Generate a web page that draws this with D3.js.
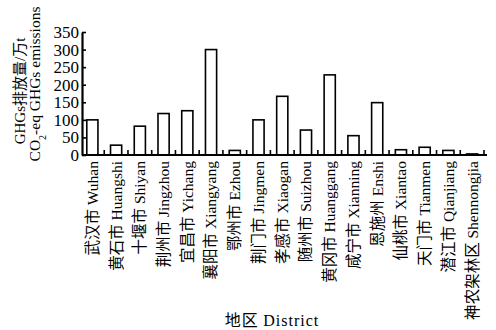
<!DOCTYPE html>
<html>
<head>
<meta charset="utf-8">
<script src="https://cdn.jsdelivr.net/npm/d3@7"></script>
<style>
  body { margin: 0; background: #fff; }
  svg text { font-family: "Liberation Serif", "Noto Sans CJK SC", serif; fill: #000; }
</style>
</head>
<body>
<svg id="chart" width="496" height="330"></svg>
<script>
// Districts (Chinese + English) and emissions
const districts = [
  "武汉市 Wuhan", "黄石市 Huangshi", "十堰市 Shiyan", "荆州市 Jingzhou",
  "宜昌市 Yichang", "襄阳市 Xiangyang", "鄂州市 Ezhou", "荆门市 Jingmen",
  "孝感市 Xiaogan", "随州市 Suizhou", "黄冈市 Huanggang", "咸宁市 Xianning",
  "恩施州 Enshi", "仙桃市 Xiantao", "天门市 Tianmen", "潜江市 Qianjiang",
  "神农架林区 Shennongjia"
];
const emissions = [100, 28, 82, 118, 126, 300, 13, 100, 167, 71, 228, 55, 149, 15, 22, 13, 3];
const yTicks = [0, 50, 100, 150, 200, 250, 300, 350];

const svg = d3.select("#chart");

const x = d3.scaleBand()
  .domain(districts)
  .range([80.5, 484])
  .paddingInner(0.53)
  .paddingOuter(0.265);

const y = d3.scaleLinear()
  .domain([0, 350])
  .range([155, 32]);

// bars
svg.selectAll(".bar")
  .data(districts)
  .enter()
  .append("rect")
  .attr("class", "bar")
  .attr("x", d => x(d))
  .attr("width", x.bandwidth())
  .attr("y", (d, i) => y(emissions[i]))
  .attr("height", (d, i) => y(0) - y(emissions[i]))
  .attr("fill", "#fff")
  .attr("stroke", "#000")
  .attr("stroke-width", 1.6);

// x axis line and inward ticks at category boundaries
svg.append("line")
  .attr("x1", 82).attr("x2", 487)
  .attr("y1", y(0)).attr("y2", y(0))
  .attr("stroke", "#000").attr("stroke-width", 2.2);

const step = x.step();
svg.selectAll(".xtick")
  .data(districts.slice(1).concat(["end"]))
  .enter()
  .append("line")
  .attr("class", "xtick")
  .attr("x1", (d, i) => x.range()[0] + (i + 1) * step)
  .attr("x2", (d, i) => x.range()[0] + (i + 1) * step)
  .attr("y1", y(0)).attr("y2", y(0) - 5)
  .attr("stroke", "#000").attr("stroke-width", 1.6);

// x labels, rotated
svg.selectAll(".xlabel")
  .data(districts)
  .enter()
  .append("text")
  .attr("class", "xlabel")
  .attr("transform", d => `translate(${x(d) + x.bandwidth() / 2},161) rotate(-90)`)
  .attr("text-anchor", "end")
  .attr("dy", "0.35em")
  .style("font-size", "15.5px")
  .text(d => d);

// y axis
const yAxis = svg.append("g")
  .attr("transform", "translate(82,0)")
  .call(d3.axisLeft(y).tickValues(yTicks).tickSize(-4).tickSizeOuter(0).tickPadding(3));
yAxis.select(".domain").attr("stroke-width", 2.2);
yAxis.selectAll(".tick line").attr("stroke-width", 1.6);
yAxis.selectAll(".tick text")
  .style("font-size", "17px")
  .style("font-family", "'Liberation Serif', serif");

// y axis title (two lines)
svg.append("text")
  .attr("transform", "translate(20,91) rotate(-90)")
  .attr("text-anchor", "middle")
  .attr("dy", "0.35em")
  .style("font-size", "15px")
  .text("GHGs排放量/万t");

const t2 = svg.append("text")
  .attr("transform", "translate(35,84) rotate(-90)")
  .attr("text-anchor", "middle")
  .attr("dy", "0.35em")
  .style("font-size", "15.5px");
t2.append("tspan").text("CO");
t2.append("tspan").attr("baseline-shift", "sub").style("font-size", "10px").text("2");
t2.append("tspan").text("-eq GHGs emissions");

// x axis title
const xt = svg.append("text")
  .attr("x", 272)
  .attr("y", 320)
  .attr("text-anchor", "middle")
  .attr("dy", "0.35em")
  .style("font-size", "16px")
  .style("letter-spacing", "1px");
xt.append("tspan").style("font-family", "'Noto Sans CJK SC', sans-serif").text("地区 ");
xt.append("tspan").style("font-family", "'Liberation Serif', serif").text("District");
</script>
</body>
</html>
